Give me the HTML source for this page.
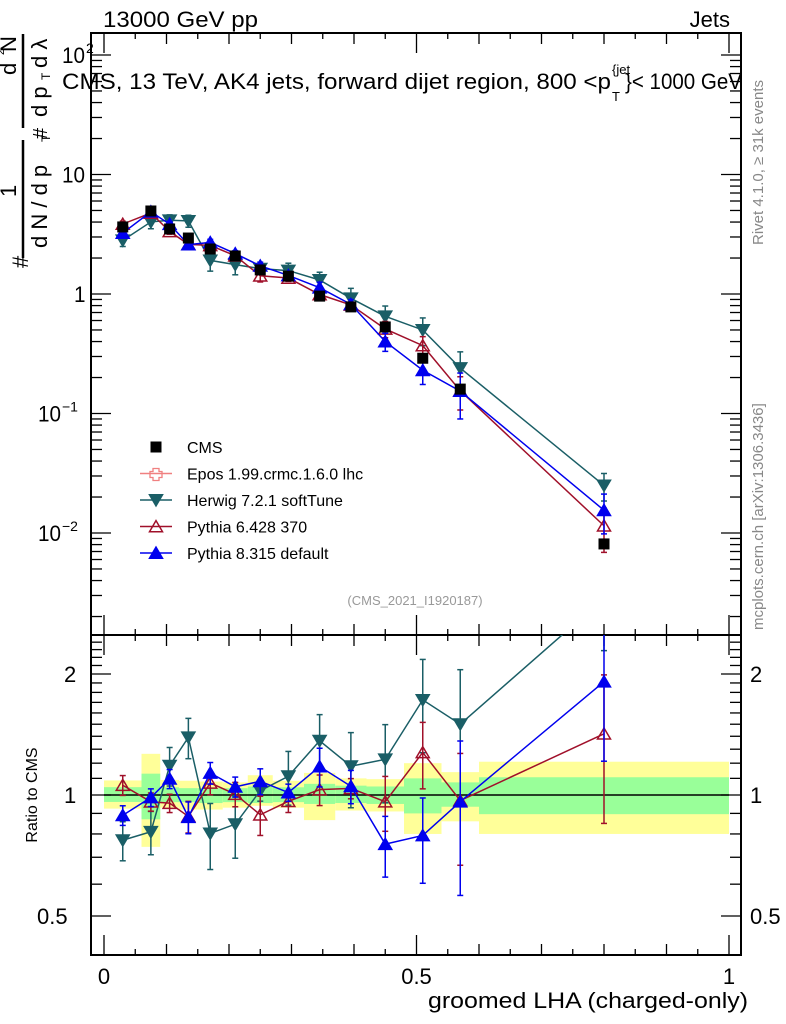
<!DOCTYPE html>
<html><head><meta charset="utf-8"><style>
body{margin:0;background:#fff;}
svg{display:block;font-family:"Liberation Sans",sans-serif;}
</style></head><body>
<svg id="c" width="786" height="1024" viewBox="0 0 786 1024"></svg>
<script>
const xs=[0.03,0.075,0.105,0.135,0.17,0.21,0.25,0.295,0.345,0.395,0.45,0.51,0.57,0.8];
const edges=[0,0.06,0.09,0.12,0.15,0.19,0.23,0.27,0.32,0.37,0.42,0.48,0.54,0.6,1];
const cms=[3.64,4.95,3.5,2.94,2.38,2.08,1.59,1.41,0.96,0.78,0.53,0.29,0.16,0.0081];
const herwig=[2.81,4.01,4.14,4.09,1.91,1.76,1.63,1.57,1.31,0.92,0.65,0.50,0.24,0.025];
const py6=[3.85,4.76,3.34,2.60,2.55,2.09,1.42,1.36,0.99,0.81,0.51,0.37,0.155,0.0115];
const py8=[3.24,4.88,3.84,2.59,2.70,2.18,1.72,1.43,1.13,0.82,0.40,0.23,0.154,0.0155];
const herwigErr=[0.086,0.1,0.13,0.16,0.15,0.15,0.06,0.17,0.22,0.25,0.27,0.45,0.55,0.8];
const py6Err=[0.06,0.05,0.05,0.08,0.07,0.07,0.1,0.06,0.09,0.06,0.15,0.24,0.3,0.57];
const py8Err=[0.05,0.05,0.06,0.08,0.07,0.06,0.08,0.05,0.13,0.1,0.13,0.19,0.4,0.7];
const yelUp=[1.087,1.266,1.09,1.085,1.08,1.075,1.12,1.085,1.135,1.1,1.095,1.2,1.14,1.21];
const yelDn=[0.925,0.743,0.93,0.92,0.92,0.93,0.94,0.93,0.866,0.915,0.91,0.8,0.86,0.8];
const grnUp=[1.046,1.13,1.045,1.04,1.04,1.04,1.05,1.045,1.066,1.055,1.05,1.1,1.075,1.107];
const grnDn=[0.961,0.87,0.96,0.96,0.955,0.96,0.955,0.96,0.95,0.955,0.95,0.9,0.935,0.896];
const xTicks=[0,0.5,1];const xTickLabels=["0","0.5","1"];
const rTicks=[0.5,1,2];const rTickLabels=["0.5","1","2"];

const S=document.getElementById('c');const NS='http://www.w3.org/2000/svg';
function el(t,a,p){const e=document.createElementNS(NS,t);for(const k in a)e.setAttribute(k,a[k]);(p||S).appendChild(e);return e;}
const L=91,R=741,T=33,M=635,B=955;
const X=v=>104+v*625;
const Y=v=>294-Math.log10(v)*119.5;
const RY=v=>795-Math.log2(v)*121;

for(let i=0;i<14;i++){
 const r1=el('rect',{x:X(edges[i]),y:RY(yelUp[i]),width:X(edges[i+1])-X(edges[i]),height:RY(yelDn[i])-RY(yelUp[i]),fill:'#ffff99'});
 
 const r2=el('rect',{x:X(edges[i]),y:RY(grnUp[i]),width:X(edges[i+1])-X(edges[i]),height:RY(grnDn[i])-RY(grnUp[i]),fill:'#99ff99'});
 
}
el('line',{x1:X(0),x2:X(1),y1:RY(1),y2:RY(1),stroke:'#000','stroke-width':1.5});

el('rect',{x:L,y:T,width:R-L,height:M-T,fill:'none',stroke:'#000','stroke-width':2});
el('rect',{x:L,y:M,width:R-L,height:B-M,fill:'none',stroke:'#000','stroke-width':2});

for(let d=-3;d<=2;d++){for(let m=1;m<10;m++){const v=m*Math.pow(10,d);const y=Y(v);if(y<T||y>M)continue;const len=m==1?20:11;
 el('line',{x1:L,x2:L+len,y1:y,y2:y,stroke:'#000','stroke-width':1.3});el('line',{x1:R,x2:R-len,y1:y,y2:y,stroke:'#000','stroke-width':1.3});}}
const lab=[[100,"10","2",62],[10,"10","",62],[1,"1","",74],[0.1,"10","−1",38],[0.01,"10","−2",38]];
lab.forEach(([v,b,e,x])=>{const t=el('text',{x:x,y:Y(v)+8,'font-size':22,textLength:b.length*11.5,lengthAdjust:'spacingAndGlyphs'});t.textContent=b;
 if(e){const s=el('text',{x:x+24,y:Y(v)-2,'font-size':14});s.textContent=e;}});
for(let v=0.4;v<=2.55;v+=0.1){const y=RY(v);if(y<M||y>B)continue;const maj=Math.abs(v-0.5)<1e-6||Math.abs(v-1)<1e-6||Math.abs(v-2)<1e-6;const len=maj?20:11;
 el('line',{x1:L,x2:L+len,y1:y,y2:y,stroke:'#000','stroke-width':1.3});el('line',{x1:R,x2:R-len,y1:y,y2:y,stroke:'#000','stroke-width':1.3});}
rTicks.forEach((v,i)=>{const t=el('text',{x:rTickLabels[i]=="0.5"?37:64,y:RY(v)+8,'font-size':22});t.textContent=rTickLabels[i];
 const t2=el('text',{x:750,y:RY(v)+8,'font-size':22});t2.textContent=rTickLabels[i];});
for(let k=0;k<=20;k++){const v=k*0.05;const x=X(v);const maj=k%10==0;const len=maj?20:(k%2==0?11:6);
 [[T,1],[M,-1],[M,1],[B,-1]].forEach(([y0,s])=>el('line',{x1:x,x2:x,y1:y0,y2:y0+s*len,stroke:'#000','stroke-width':1.3}));}
xTicks.forEach((v,i)=>{const t=el('text',{x:X(v),y:984,'font-size':22,'text-anchor':'middle'});t.textContent=xTickLabels[i];});

function series(name,vals,errs,color,marker,hollow){
 const g=el('g',{});
 const rg=el('g',{});
 const pts=vals.map((v,i)=>[X(xs[i]),Y(v)]);
 el('polyline',{points:pts.map(p=>p.join(',')).join(' '),fill:'none',stroke:color,'stroke-width':1.5},g);
 const rv=vals.map((v,i)=>v/cms[i]);
 const rp=rv.map((v,i)=>[X(xs[i]),RY(v)]);
 const cp=el('clipPath',{id:'clip'+name});el('rect',{x:L,y:M,width:R-L,height:B-M},cp);
 const rg2=el('g',{'clip-path':'url(#clip'+name+')'},rg);
 el('polyline',{points:rp.map(p=>p.join(',')).join(' '),fill:'none',stroke:color,'stroke-width':1.5},rg2);
 vals.forEach((v,i)=>{
  const e=errs[i];
  const y1=Y(v*(1+e/rv[i])),y2=Y(Math.max(v*(1-e/rv[i]),v*0.3));
  el('line',{x1:pts[i][0],x2:pts[i][0],y1:y1,y2:y2,stroke:color,'stroke-width':1.5},g);
  [y1,y2].forEach(y=>el('line',{x1:pts[i][0]-3,x2:pts[i][0]+3,y1:y,y2:y,stroke:color,'stroke-width':1.5},g));
  const m=mk(pts[i][0],pts[i][1],color,marker,hollow,g);
  const ry1=RY(rv[i]+e),ry2=RY(Math.max(rv[i]-e,0.3));
  el('line',{x1:rp[i][0],x2:rp[i][0],y1:ry1,y2:ry2,stroke:color,'stroke-width':1.5},rg2);
  [ry1,ry2].forEach(y=>el('line',{x1:rp[i][0]-3,x2:rp[i][0]+3,y1:y,y2:y,stroke:color,'stroke-width':1.5},rg2));
  const m2=mk(rp[i][0],rp[i][1],color,marker,hollow,rg2);
 });
}
function mk(x,y,c,t,h,p){const s=6.5;
 if(t=='down')return el('polygon',{points:`${x-s},${y-s*0.8} ${x+s},${y-s*0.8} ${x},${y+s*0.9}`,fill:h?'none':c,stroke:c,'stroke-width':1.5},p);
 if(t=='up')return el('polygon',{points:`${x-s},${y+s*0.8} ${x+s},${y+s*0.8} ${x},${y-s*0.9}`,fill:h?'none':c,stroke:c,'stroke-width':1.5},p);
 return el('rect',{x:x-5.5,y:y-5.5,width:11,height:11,fill:c},p);}
series('herwig',herwig,herwigErr,'#1a5e66','down',false);
series('pythia6',py6,py6Err,'#a0102a','up',true);
series('pythia8',py8,py8Err,'#0000ee','up',false);
cms.forEach((v,i)=>{const m=mk(X(xs[i]),Y(v),'#000','sq',false);});

const leg=[['CMS','#000','sq'],['Epos 1.99.crmc.1.6.0 lhc','#f08080','cross'],['Herwig 7.2.1 softTune','#1a5e66','down'],['Pythia 6.428 370','#a0102a','up-h'],['Pythia 8.315 default','#0000ee','up']];
leg.forEach((l,i)=>{const y=447+i*26.5;const g=el('g',{});
 if(l[2]!='sq')el('line',{x1:140,x2:172,y1:y,y2:y,stroke:l[1],'stroke-width':1.5},g);
 if(l[2]=='cross'){el('path',{d:`M${153},${y-5}h6v3h3v6h-3v3h-6v-3h-3v-6h3z`,fill:'none',stroke:l[1],'stroke-width':1.3},g);}
 else mk(156,y,l[1],l[2].replace('-h',''),l[2].endsWith('-h'),g);
 const t=el('text',{x:187,y:y+6,'font-size':16},g);t.textContent=l[0];});

function txt(x,y,s,str,attrs,name){const t=el('text',Object.assign({x:x,y:y,'font-size':s},attrs||{}));t.textContent=str;return t;}
txt(103,27,22,'13000 GeV pp',{textLength:155,lengthAdjust:'spacingAndGlyphs'},'energy-label');
txt(730,27,22,'Jets',{'text-anchor':'end'},'process-label');
txt(62,89,22,'CMS, 13 TeV, AK4 jets, forward dijet region, 800 <p',{textLength:549,lengthAdjust:'spacingAndGlyphs'},'plot-title');
txt(625,89,22,'}< 1000 GeV',{textLength:117,lengthAdjust:'spacingAndGlyphs'},'plot-title-end');
txt(612,74,13,'{jet',{},'title-superscript');txt(612,101,13,'T',{},'title-subscript');
txt(415,605,13,'(CMS_2021_I1920187)',{fill:'#999','text-anchor':'middle'},'analysis-id');
txt(0,0,15,'Rivet 4.1.0, ≥ 31k events',{fill:'#888',transform:'translate(763,245) rotate(-90)'},'rivet-version');
txt(0,0,15,'mcplots.cern.ch [arXiv:1306.3436]',{fill:'#888',transform:'translate(763,630) rotate(-90)'},'mcplots-credit');
txt(748,1008,22,'groomed LHA (charged-only)',{'text-anchor':'end',textLength:320,lengthAdjust:'spacingAndGlyphs'},'x-axis-title');
txt(0,0,16,'Ratio to CMS',{'text-anchor':'middle',transform:'translate(37,795) rotate(-90)'},'ratio-y-axis-title');
const yl=el('g',{});
el('line',{x1:23,x2:23,y1:258,y2:140,stroke:'#000','stroke-width':2.5},yl);
el('line',{x1:23,x2:23,y1:128,y2:34,stroke:'#000','stroke-width':2.5},yl);
[['#',28,268,22],['1',16,197,22],['d N / d p',47,248,22],['T',50,142,12],['#',47,139,20],['d',16,75,22],['2',4,55,11],['N',16,52,22],['d p',47,117,22],['T',50,80,12],['d λ',47,68,22]].forEach(a=>{
 const t=el('text',{x:0,y:0,'font-size':a[3],transform:`translate(${a[1]},${a[2]}) rotate(-90)`},yl);t.textContent=a[0];});
</script>
</body></html>
